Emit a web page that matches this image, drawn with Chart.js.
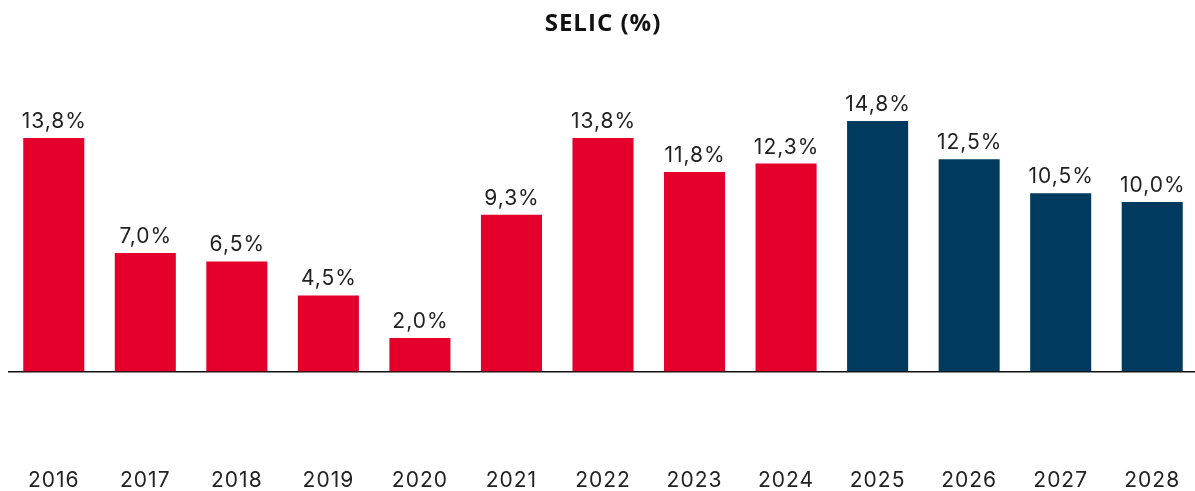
<!DOCTYPE html>
<html>
<head>
<meta charset="utf-8">
<script src="https://cdn.jsdelivr.net/npm/chart.js@4/dist/chart.umd.min.js"></script>
<style>
  html, body { margin: 0; padding: 0; background: #fff; overflow: hidden; }
  #wrap { position: relative; width: 1198px; height: 491px; }
</style>
</head>
<body>
<div id="wrap"><canvas id="c"></canvas></div>
<script>
const years = ['2016','2017','2018','2019','2020','2021','2022','2023','2024','2025','2026','2027','2028'];
const selic = [13.75, 7.0, 6.5, 4.5, 2.0, 9.25, 13.75, 11.75, 12.25, 14.75, 12.5, 10.5, 10.0];
const isForecast = [false,false,false,false,false,false,false,false,false,true,true,true,true];
const redColor = '#E4002B';
const blueColor = '#003B5F';

const spacing = {
  id: 'spacing',
  beforeDraw(chart) { chart.ctx.letterSpacing = '1px'; }
};

const valueLabels = {
  id: 'valueLabels',
  afterDatasetsDraw(chart) {
    const ctx = chart.ctx;
    const meta = chart.getDatasetMeta(0);
    ctx.save();
    ctx.letterSpacing = '1px';
    ctx.font = '21px Inter, "Noto Sans", sans-serif';
    ctx.fillStyle = '#222';
    ctx.textAlign = 'center';
    ctx.textBaseline = 'alphabetic';
    meta.data.forEach((bar, i) => {
      const txt = selic[i].toFixed(1).replace('.', ',') + '%';
      ctx.fillText(txt, bar.x + 0.5, bar.y - 10);
    });
    ctx.restore();
  }
};

new Chart(document.getElementById('c'), {
  type: 'bar',
  data: {
    labels: years,
    datasets: [{
      data: selic,
      backgroundColor: isForecast.map(f => f ? blueColor : redColor),
      barPercentage: 0.667,
      categoryPercentage: 1.0
    }]
  },
  options: {
    responsive: true,
    maintainAspectRatio: false,
    animation: false,
    layout: { padding: { left: 8, right: 0, top: 0, bottom: 0 } },
    plugins: {
      legend: { display: false },
      tooltip: { enabled: false },
      title: {
        display: true,
        text: 'SELIC (%)',
        color: '#111',
        font: { family: '"Open Sans", sans-serif', size: 24, weight: 'bold' },
        padding: { top: 10, bottom: 10 }
      }
    },
    scales: {
      x: {
        grid: { display: false, drawTicks: false },
        border: { display: false },
        ticks: {
          color: '#222',
          font: { family: 'Inter, "Noto Sans", sans-serif', size: 21 },
          padding: 11,
          maxRotation: 0
        },
        afterFit(scale) { scale.height = 34; }
      },
      y: {
        min: -5,
        max: 19,
        ticks: { display: false, stepSize: 1 },
        border: { display: false },
        grid: {
          drawTicks: false,
          color: c => (c.tick && c.tick.value === 0) ? '#111' : 'rgba(0,0,0,0)',
          lineWidth: 1.5
        }
      }
    }
  },
  plugins: [spacing, valueLabels]
});
</script>
</body>
</html>
